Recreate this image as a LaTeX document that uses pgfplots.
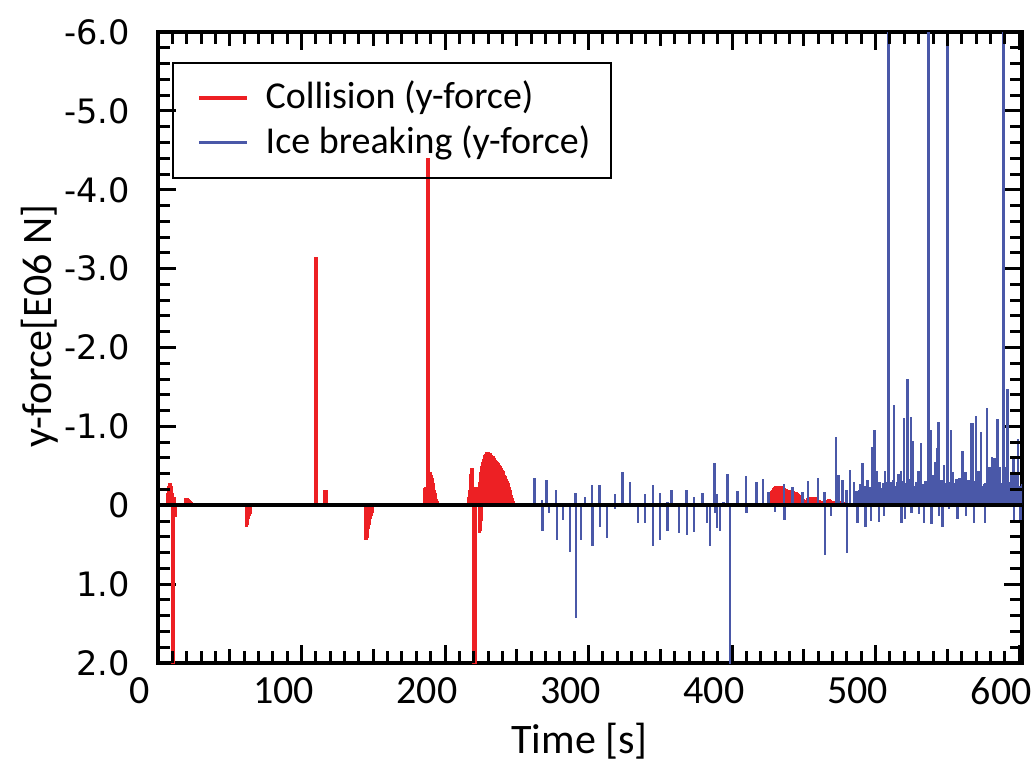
\documentclass[border=0pt]{standalone}
\usepackage{fontspec}
\setmainfont{Carlito}
\newfontfamily\dejavu{DejaVu Sans}
\usepackage{pgfplots}
\pgfplotsset{compat=1.18}
\definecolor{cred}{RGB}{237,32,36}
\definecolor{cblue}{RGB}{74,88,168}
\pgfplotsset{tickonly/.style={scale only axis, width=216pt, height=157.75pt,
 xmin=0, xmax=602, ymin=-6, ymax=2, y dir=reverse,
 axis line style={draw=none}, tick style={black, line width=0.75pt},
 xticklabels={}, yticklabels={}}}
\begin{document}
\begin{tikzpicture}
\begin{axis}[name=ax,
 scale only axis, width=216pt, height=157.75pt,
 xmin=0, xmax=602, ymin=-6, ymax=2, y dir=reverse,
 axis line style={line width=0.9pt},
 tick style={black, line width=0.75pt},
 major tick length=4.6pt,
 xtick={0,100,...,600}, xticklabels={0,100,200,300,400,500,600},
 ytick={-6,-5,...,2}, yticklabels={-6.0,-5.0,-4.0,-3.0,-2.0,-1.0,0,1.0,2.0},
 xticklabel style={font=\fontsize{10}{12}\selectfont, xshift=-4.5pt},
 yticklabel style={font=\dejavu\fontsize{8.4}{10}\selectfont, xshift=-3.5pt},
 xlabel={Time [s]}, ylabel={y-force[E06 N]},
 label style={font=\fontsize{10.5}{12}\selectfont},
 xlabel style={at={(axis description cs:0.488,-0.124)}, anchor=center},
 ylabel style={at={(axis description cs:-0.137,0.534)}, anchor=center},
 legend style={at={(0.0162,0.9525)}, anchor=north west, font=\fontsize{9.5}{11}\selectfont, draw=black, fill=none, line width=0.5pt, inner xsep=3.25pt, inner ysep=2.5pt, row sep=-1.25pt, /tikz/every odd column/.append style={column sep=2.25pt}},
 legend cell align=left,
]
\addplot[cred, ycomb, line width=0.85pt, mark=none, legend image code/.code={\path[draw=none] (0pt,0pt) -- (3.25pt,0pt); \draw[cred, line width=0.85pt] (3.25pt,0pt) -- (15.25pt,0pt);}] table {
t v
7 -0.15
7.5 -0.25
8 -0.28
8.5 -0.28
9 -0.24
9.5 -0.2
10 -0.15
10.5 2.1
11 2.1
11.3 -0.1
11.7 0.15
12.1 0.15
19 -0.09
19.5 -0.09
20 -0.09
20.5 -0.09
21 -0.08
21.5 -0.07
22 -0.05
22.5 -0.05
23 -0.04
23.5 -0.03
24 -0.02
24.5 -0.02
25 -0.02
25.5 -0.02
26 -0.02
26.5 -0.02
27 -0.02
27.5 -0.02
28 -0.02
28.5 -0.02
61.5 0.27
62 0.25
62.5 0.22
63 0.18
63.5 0.14
64 0.11
64.5 0.08
110 -3.15
116 -0.2
116.5 -0.2
117 -0.19
117.5 -0.06
145 0.44
145.5 0.42
146 0.36
146.5 0.3
147 0.25
147.5 0.22
148 0.18
148.5 0.13
149 0.1
149.5 0.06
186 -0.22
186.5 -0.23
187 -0.23
187.6 -4.4
188.4 -4.4
189.5 -0.42
190 -0.42
190.5 -0.38
191 -0.34
191.5 -0.28
192 -0.23
192.5 -0.19
193 -0.15
193.5 -0.11
194 -0.08
194.5 -0.05
195 -0.03
216.7 -0.1
217.2 -0.19
217.7 -0.2
218.2 -0.4
218.7 -0.47
219.2 -0.45
219.8 2.1
220.3 2.1
220.8 2.1
221.3 -0.23
221.8 -0.22
222.3 -0.22
222.8 -0.23
223.3 -0.22
223.8 0.35
224.3 -0.3
224.6 0.33
225 -0.42
225.4 0.2
225.8 -0.5
226.3 -0.55
226.8 -0.59
227.3 -0.62
227.8 -0.64
228.3 -0.65
228.8 -0.66
229.3 -0.67
229.8 -0.67
230.3 -0.67
230.8 -0.66
231.3 -0.66
231.8 -0.65
232.3 -0.64
232.8 -0.63
233.3 -0.62
233.8 -0.61
234.3 -0.6
234.8 -0.58
235.3 -0.57
235.8 -0.56
236.3 -0.55
236.8 -0.53
237.3 -0.52
237.8 -0.51
238.3 -0.5
238.8 -0.49
239.3 -0.47
239.8 -0.45
240.3 -0.43
240.8 -0.41
241.3 -0.39
241.8 -0.37
242.3 -0.35
242.8 -0.33
243.3 -0.31
243.8 -0.28
244.3 -0.26
244.8 -0.23
245.3 -0.2
245.8 -0.17
246.3 -0.13
246.8 -0.09
247.3 -0.05
427 -0.14
427.7 -0.18
428.4 -0.2
429 -0.22
429.7 -0.23
430.4 -0.24
431 -0.24
431.7 -0.25
432.4 -0.25
433 -0.25
433.7 -0.24
434.4 -0.24
435 -0.23
435.7 -0.22
436.4 -0.22
437 -0.21
437.7 -0.21
438.4 -0.2
439 -0.2
439.7 -0.2
440.4 -0.2
441 -0.19
441.7 -0.19
442.4 -0.18
443 -0.17
443.7 -0.17
444.4 -0.17
445 -0.16
445.7 -0.15
446.4 -0.14
447 -0.13
447.7 -0.12
448.4 -0.11
449 -0.1
449.7 -0.08
450.4 -0.07
451 -0.06
451.7 -0.06
452.4 -0.07
453 -0.09
453.7 -0.1
454.4 -0.1
455 -0.1
455.7 -0.1
456.4 -0.1
457 -0.1
457.7 -0.1
458.4 -0.1
459 -0.09
459.7 -0.08
460.4 -0.07
461 -0.07
461.7 -0.06
462.4 -0.06
463 -0.05
463.7 -0.05
464.4 -0.04
465 -0.05
465.7 -0.06
466.4 -0.07
467 -0.08
467.7 -0.08
468.4 -0.07
469 -0.06
469.7 -0.05
470.4 -0.05
471 -0.05
471.7 -0.05
472.4 -0.05
473 -0.05
473.7 -0.05
474.4 -0.05
475 -0.04
476 -0.04
477 -0.04
478 -0.04
479 -0.03
480 -0.03
481 -0.03
};
\addlegendentry{Collision (y-force)}
\addplot[cblue, ycomb, line width=0.6pt, mark=none, legend image code/.code={\path[draw=none] (0pt,0pt) -- (3.25pt,0pt); \draw[cblue, line width=0.85pt] (3.25pt,0pt) -- (15.25pt,0pt);}] table {
t v
257.5 0.02
262.3 -0.34
267.7 -0.07
268.0 0.32
270.7 -0.32
272.3 0.1
277.5 -0.2
277.8 0.44
282.1 0.19
286.8 -0.02
287.0 0.59
291.0 -0.16
291.2 1.43
294.9 0.44
295.1 -0.02
297.5 -0.11
302.4 -0.26
302.7 0.51
307.5 -0.26
307.8 0.27
313.0 0.41
318.2 -0.14
318.5 0.05
323.5 -0.42
328.9 -0.3
334.4 0.22
339.1 -0.14
339.4 0.22
344.7 -0.26
345.0 0.51
349.6 -0.16
349.9 0.44
354.9 0.32
355.1 -0.04
357.7 -0.2
363.0 0.35
368.2 -0.2
368.5 0.38
373.3 -0.11
373.6 0.34
379.3 -0.15
382.3 0.22
384.4 0.51
387.8 -0.54
388.1 0.1
389.1 -0.14
389.3 0.29
391.6 0.33
394.0 -0.04
396.7 -0.4
398.4 2.1
403.7 -0.18
409.8 -0.37
410.1 0.1
417.0 -0.3
421.6 -0.33
425.4 -0.17
429.8 0.08
436.3 -0.27
436.6 0.19
442.0 -0.23
449.0 -0.17
453.0 -0.31
460.0 -0.35
464.4 -0.17
464.6 0.63
468.8 0.13
472.3 -0.87
474.2 -0.38
477.0 -0.32
479.8 -0.19
480.1 0.6
482.3 -0.45
485.0 -0.3
487.5 0.22
489.2 -0.27
490.9 -0.53
492.8 0.28
494.4 -0.32
496.7 0.2
497.9 -0.74
499.1 -0.95
500.7 -0.44
502.5 0.21
503.5 -0.19
506.0 0.13
506.7 -0.44
509.0 -6.5
510.6 -0.3
513.0 -1.27
516.0 -0.4
517.6 -0.44
517.9 0.23
519.9 -1.11
520.6 0.17
522.3 -1.6
524.6 -1.12
524.9 0.1
526.2 -0.82
528.5 -0.3
529.9 -0.44
530.4 0.11
531.6 -0.79
532.7 -0.27
533.9 0.23
534.6 -0.23
536.9 -6.5
538.5 -0.96
538.8 0.24
540.2 -0.39
541.5 -0.55
543.2 -0.72
543.9 -1.06
544.2 0.13
545.5 -0.32
546.7 0.27
547.8 -0.51
550.2 -6.5
551.3 0.05
552.5 -0.95
554.1 -0.42
556.0 -0.27
557.1 0.18
558.3 -0.34
560.6 -0.69
562.5 -0.42
562.9 0.14
564.8 -0.32
566.4 -1.04
567.6 -1.04
568.7 0.22
569.9 -1.13
571.8 -0.44
573.4 -0.93
575.7 -0.27
576.4 0.23
577.4 -1.23
579.2 -0.49
581.1 -0.61
582.7 -0.6
585.0 -1.09
586.6 -0.49
589.0 -6.5
590.4 -0.49
592.0 -1.47
594.3 -0.4
596.0 -0.61
596.6 0.23
597.8 -0.38
599.0 -0.84
600.1 -0.25
601.0 0.2
};
\addlegendentry{Ice breaking (y-force)}
\addplot[cblue, ycomb, line width=0.6pt, mark=none, forget plot] table {
t v
486.0 -0.12
486.8 -0.18
487.6 -0.10
488.4 -0.20
489.2 -0.14
490.0 -0.22
490.8 -0.12
491.6 -0.16
492.4 -0.24
493.2 -0.10
494.0 -0.19
494.8 -0.15
495.6 -0.23
496.4 -0.12
497.2 -0.20
498.0 -0.17
498.8 -0.25
499.6 -0.14
500.4 -0.20
501.2 -0.26
502.0 -0.17
502.8 -0.30
503.6 -0.22
504.4 -0.18
505.2 -0.28
506.0 -0.21
506.8 -0.25
507.6 -0.16
508.4 -0.30
509.2 -0.23
510.0 -0.19
510.8 -0.27
511.6 -0.22
512.4 -0.32
513.2 -0.18
514.0 -0.24
514.8 -0.29
515.6 -0.20
516.4 -0.26
517.2 -0.17
518.0 -0.31
518.8 -0.22
519.6 -0.25
520.4 -0.19
521.2 -0.28
522.0 -0.21
522.8 -0.33
523.6 -0.18
524.4 -0.26
525.2 -0.23
526.0 -0.30
526.8 -0.17
527.6 -0.24
528.4 -0.28
529.2 -0.20
530.0 -0.27
530.8 -0.16
531.6 -0.29
532.4 -0.22
533.2 -0.25
534.0 -0.19
534.8 -0.31
535.6 -0.21
536.4 -0.26
537.2 -0.18
538.0 -0.28
538.8 -0.23
539.6 -0.30
540.4 -0.17
541.2 -0.25
542.0 -0.22
542.8 -0.29
543.6 -0.19
544.4 -0.27
545.2 -0.21
546.0 -0.32
546.8 -0.18
547.6 -0.24
548.4 -0.28
549.2 -0.20
550.0 -0.26
550.8 -0.17
551.6 -0.30
552.4 -0.22
553.2 -0.25
554.0 -0.19
554.8 -0.28
555.6 -0.21
556.4 -0.33
557.2 -0.18
558.0 -0.26
558.8 -0.23
559.6 -0.29
560.4 -0.17
561.2 -0.24
562.0 -0.30
562.8 -0.20
563.6 -0.27
564.4 -0.16
565.2 -0.28
566.0 -0.22
566.8 -0.25
567.6 -0.19
568.4 -0.31
569.2 -0.21
570.0 -0.26
570.8 -0.18
571.6 -0.29
572.4 -0.23
573.2 -0.30
574.0 -0.17
574.8 -0.25
575.6 -0.22
576.4 -0.28
577.2 -0.19
578.0 -0.27
578.8 -0.21
579.6 -0.32
580.4 -0.18
581.2 -0.24
582.0 -0.29
582.8 -0.20
583.6 -0.26
584.4 -0.17
585.2 -0.30
586.0 -0.22
586.8 -0.25
587.6 -0.19
588.4 -0.28
589.2 -0.21
590.0 -0.33
590.8 -0.18
591.6 -0.26
592.4 -0.23
593.2 -0.29
594.0 -0.17
594.8 -0.24
595.6 -0.30
596.4 -0.20
597.2 -0.27
598.0 -0.16
598.8 -0.28
599.6 -0.22
600.4 -0.25
601.2 -0.19
602.0 -0.27
};
\addplot[black, line width=0.9pt, forget plot] coordinates {(0,0) (602,0)};
\end{axis}
\begin{axis}[tickonly, major tick length=3.6pt,
 xtick={50,150,250,350,450,550}, ytick=\empty]
\end{axis}
\begin{axis}[tickonly, major tick length=3pt,
 xtick={10,20,30,40,60,70,80,90,110,120,130,140,160,170,180,190,210,220,230,240,260,270,280,290}, ytick=\empty]
\end{axis}
\begin{axis}[tickonly, major tick length=3pt,
 xtick={310,320,330,340,360,370,380,390,410,420,430,440,460,470,480,490,510,520,530,540,560,570,580,590}, ytick=\empty]
\end{axis}
\begin{axis}[tickonly, major tick length=3pt, xtick=\empty,
 ytick={-5.8,-5.6,-5.4,-5.2,-4.8,-4.6,-4.4,-4.2,-3.8,-3.6,-3.4,-3.2,-2.8,-2.6,-2.4,-2.2}]
\end{axis}
\begin{axis}[tickonly, major tick length=3pt, xtick=\empty,
 ytick={-1.8,-1.6,-1.4,-1.2,-0.8,-0.6,-0.4,-0.2,0.2,0.4,0.6,0.8,1.2,1.4,1.6,1.8}]
\end{axis}
\pgfresetboundingbox
\path[use as bounding box] (ax.south west) ++(-39.5pt,-24.5pt) rectangle ++(258.75pt,190.25pt);
\end{tikzpicture}
\end{document}
